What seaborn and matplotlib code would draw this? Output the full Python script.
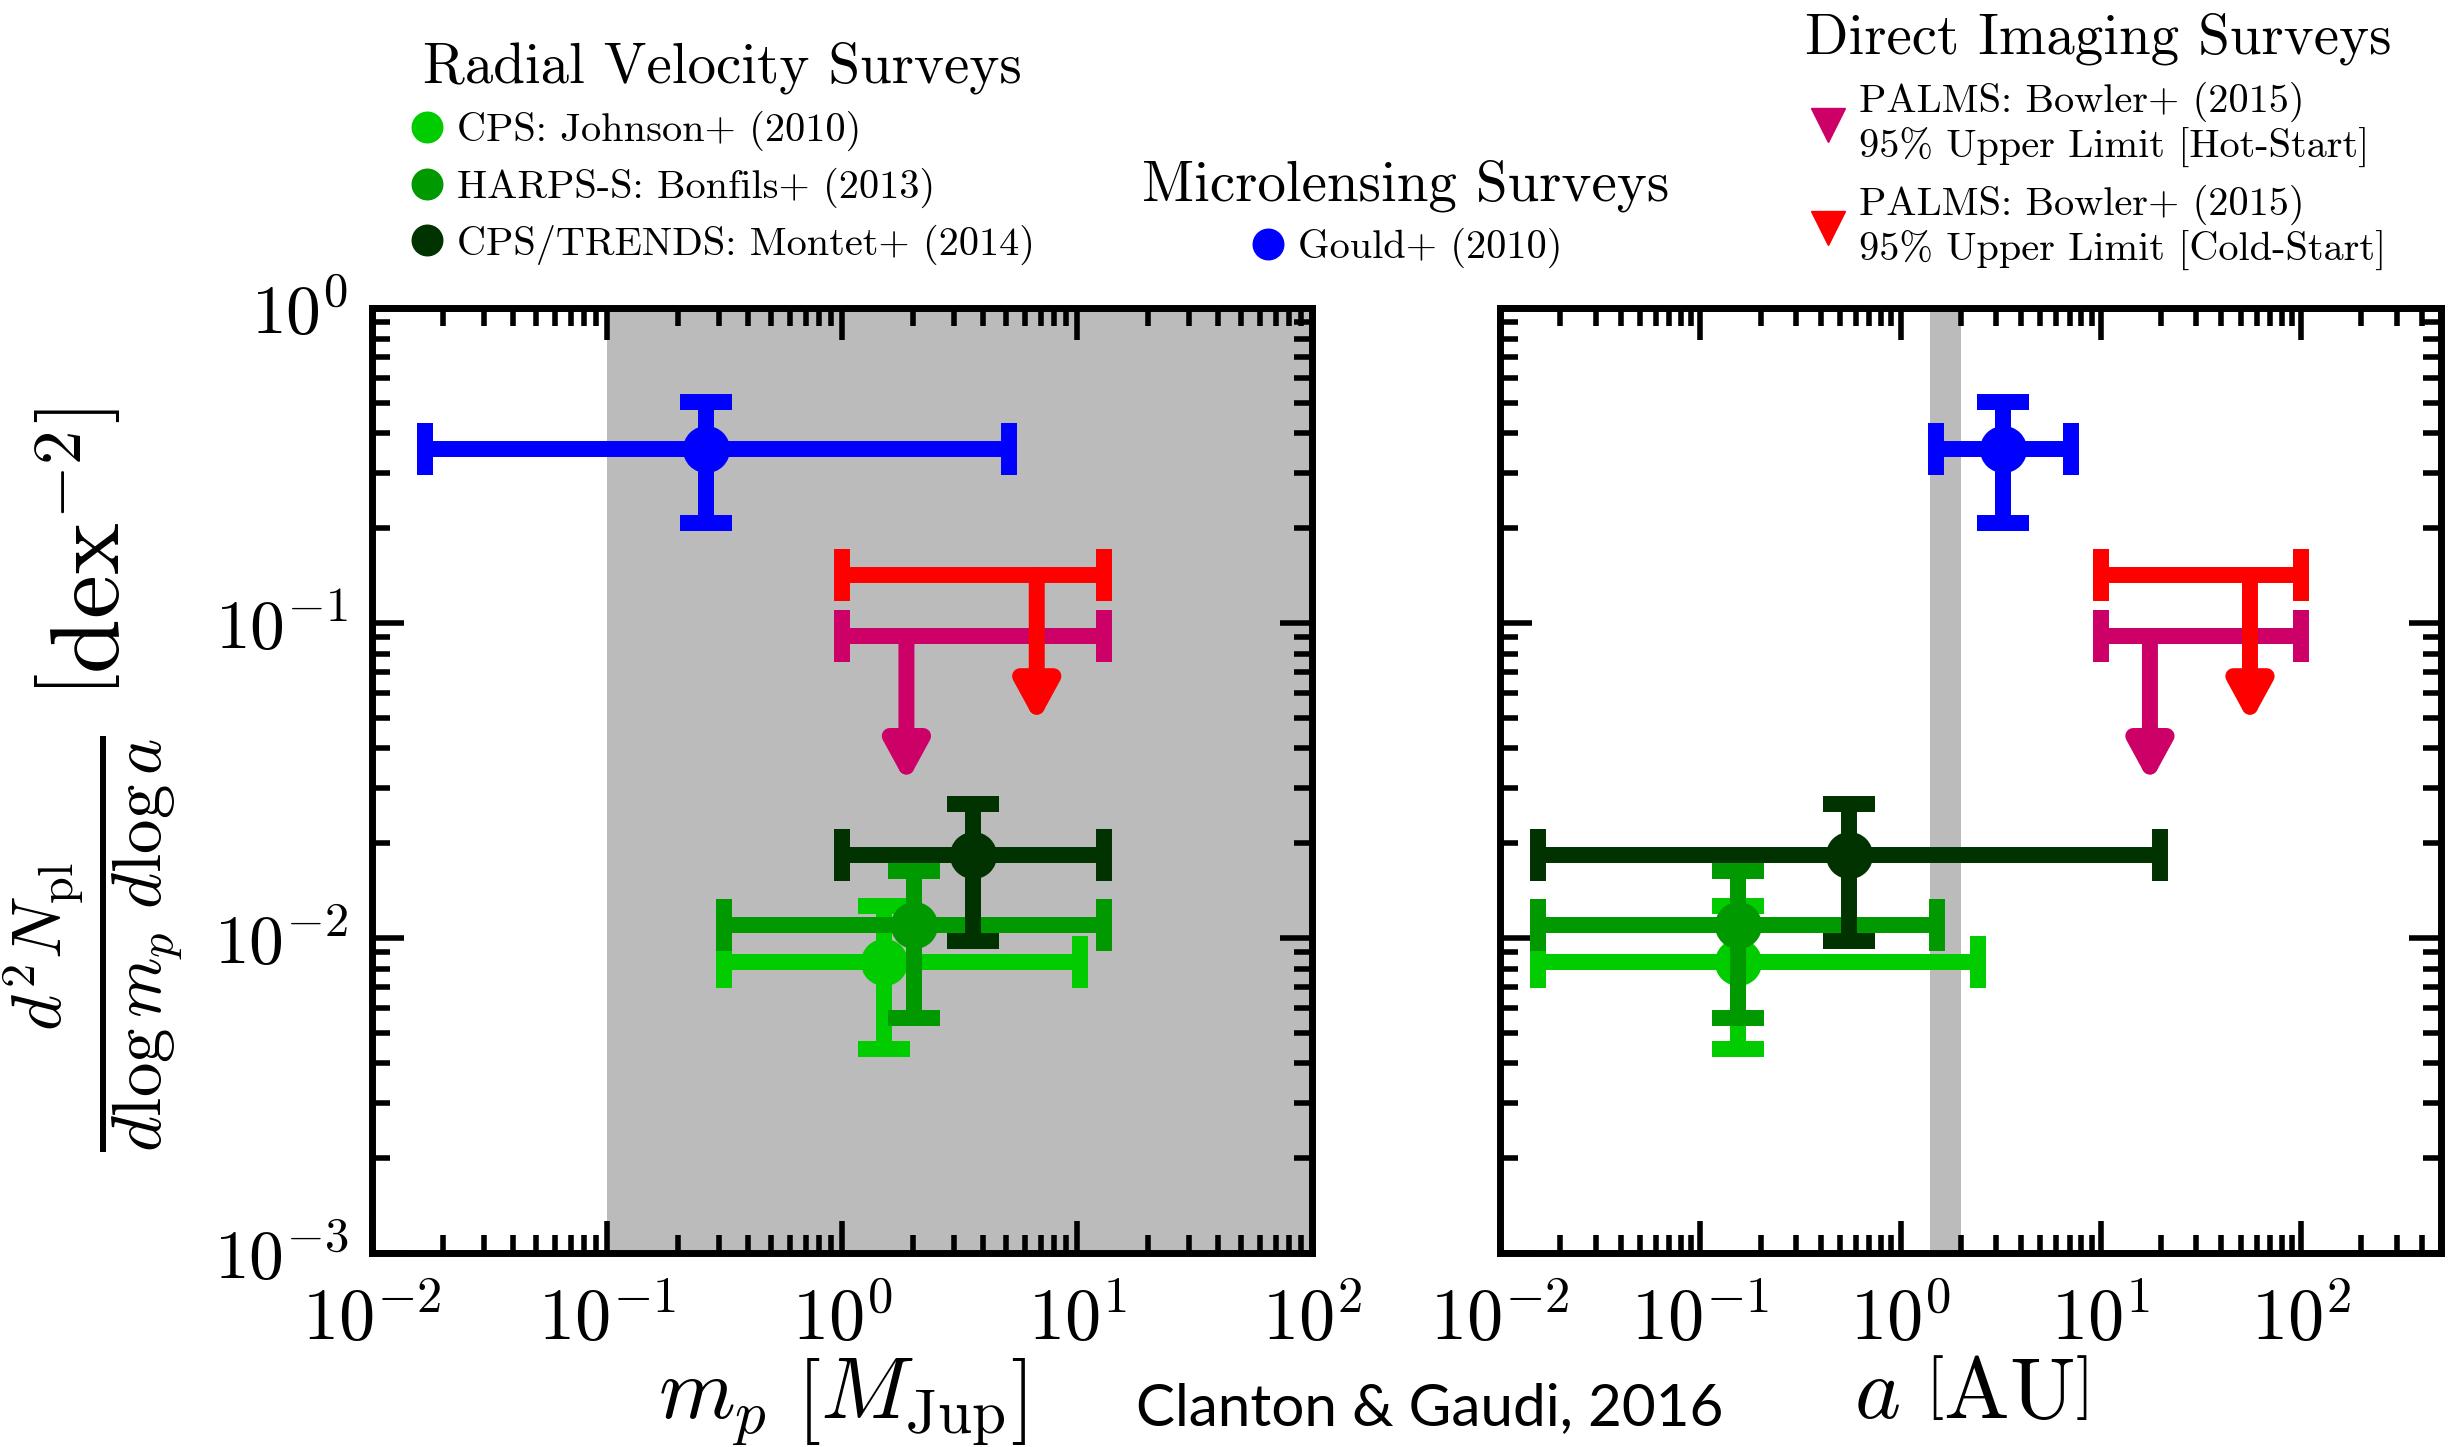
import numpy as np
import pandas as pd
import matplotlib
matplotlib.use("Agg")
import matplotlib.pyplot as plt
import seaborn as sns
from matplotlib.lines import Line2D
from matplotlib.ticker import FixedLocator, LogLocator, FuncFormatter, NullFormatter

sns.set_theme(style="white")
plt.rcParams["font.family"] = ["cmr10", "DejaVu Serif"]
plt.rcParams["mathtext.fontset"] = "cm"
plt.rcParams["axes.unicode_minus"] = False
plt.rcParams["axes.formatter.use_mathtext"] = True
for key in ["text.color", "axes.labelcolor", "xtick.color", "ytick.color", "axes.edgecolor"]:
    plt.rcParams[key] = "black"

# ---------------- data ----------------
surveys = ["CPS: Johnson+ (2010)", "HARPS-S: Bonfils+ (2013)",
           "CPS/TRENDS: Montet+ (2014)", "Gould+ (2010)"]
colors = ["#00cc00", "#009900", "#003300", "#0000ff"]
mass = [1.51, 2.03, 3.62, 0.264]
mass_lo = [0.315, 0.315, 1.0, 0.0168]
mass_hi = [10.3, 13.0, 13.0, 5.15]
sep = [0.154, 0.154, 0.553, 3.25]
sep_lo = [0.0154, 0.0154, 0.0154, 1.51]
sep_hi = [2.44, 1.53, 19.7, 7.11]
freq = [0.00838, 0.0110, 0.0183, 0.356]
freq_lo = [0.00443, 0.00559, 0.0098, 0.208]
freq_hi = [0.0126, 0.0163, 0.0266, 0.502]

limit_labels = ["PALMS: Bowler+ (2015)\n95% Upper Limit [Hot-Start]",
                "PALMS: Bowler+ (2015)\n95% Upper Limit [Cold-Start]"]
limit_colors = ["#cc0066", "#ff0000"]
limit_freq = [0.091, 0.142]
limit_tip = [0.0310, 0.0480]
limit_mass_lo = [1.0, 1.0]
limit_mass_hi = [13.0, 13.0]
limit_mass_arrow = [1.88, 6.74]
limit_sep_lo = [10.0, 10.0]
limit_sep_hi = [100.0, 100.0]
limit_sep_arrow = [17.6, 55.6]

mass_shade = [0.1, 100.0]
sep_shade = [1.4, 2.0]
mass_lim = [1e-2, 1e2]
sep_lim = [1e-2, 500.0]
freq_lim = [1e-3, 1.0]

df = pd.DataFrame({"survey": surveys, "color": colors, "mass": mass,
                   "mass_lo": mass_lo, "mass_hi": mass_hi, "sep": sep,
                   "sep_lo": sep_lo, "sep_hi": sep_hi, "freq": freq,
                   "freq_lo": freq_lo, "freq_hi": freq_hi})

# ---------------- figure ----------------
W, H = 2450, 1447
fig = plt.figure(figsize=(W / 100, H / 100), dpi=100)
axL = fig.add_axes([372 / W, 1 - 1253 / H, 940 / W, 945 / H])
axR = fig.add_axes([1500 / W, 1 - 1253 / H, 941 / W, 945 / H])

LW = 11.5
CAP = 19


def draw_panel(ax, xcol, xlo, xhi, lim_lo, lim_hi, lim_arrow, shade, xlim):
    ax.set_xscale("log")
    ax.set_yscale("log")
    ax.axvspan(shade[0], shade[1], color="#bbbbbb", lw=0, zorder=0)
    # upper limits (direct imaging)
    for i in range(len(limit_freq)):
        z = 3 + i
        xa = lim_arrow[i]
        ax.errorbar([xa], [limit_freq[i]],
                    xerr=[[xa - lim_lo[i]], [lim_hi[i] - xa]],
                    fmt="none", ecolor=limit_colors[i], elinewidth=LW,
                    capsize=CAP, capthick=LW, zorder=z)
        ax.annotate("", xy=(xa, limit_tip[i]), xytext=(xa, limit_freq[i]),
                    arrowprops=dict(arrowstyle="-|>,head_length=1.1,head_width=0.6",
                                    mutation_scale=20, lw=LW,
                                    color=limit_colors[i], shrinkA=0,
                                    shrinkB=0),
                    zorder=z)
    # detections
    for i, row in df.iterrows():
        z = 6 + 2 * i
        x = row[xcol]
        y = row["freq"]
        ax.errorbar([x], [y],
                    xerr=[[x - row[xlo]], [row[xhi] - x]],
                    yerr=[[y - row["freq_lo"]], [row["freq_hi"] - y]],
                    fmt="none", ecolor=row["color"], elinewidth=LW,
                    capsize=CAP, capthick=LW, zorder=z)
        sns.scatterplot(data=df.iloc[[i]], x=xcol, y="freq", color=row["color"],
                        s=1150, linewidth=0, ax=ax, legend=False, zorder=z + 1)
    ax.set_xlim(*xlim)
    ax.set_ylim(*freq_lim)
    ax.set_xlabel("")
    ax.set_ylabel("")
    for sp in ax.spines.values():
        sp.set_visible(True)
        sp.set_color("black")
        sp.set_linewidth(5)
    ax.xaxis.set_major_locator(FixedLocator([1e-2, 1e-1, 1e0, 1e1, 1e2]))
    ax.xaxis.set_minor_locator(LogLocator(base=10, subs=np.arange(2, 10), numticks=20))
    ax.yaxis.set_major_locator(FixedLocator([1e-3, 1e-2, 1e-1, 1e0]))
    ax.yaxis.set_minor_locator(LogLocator(base=10, subs=np.arange(2, 10), numticks=20))
    ax.xaxis.set_major_formatter(FuncFormatter(lambda v, p: r"$10^{%d}$" % round(np.log10(v))))
    ax.yaxis.set_major_formatter(FuncFormatter(lambda v, p: r"$\mathbf{10^{%d}}$" % round(np.log10(v))))
    ax.xaxis.set_minor_formatter(NullFormatter())
    ax.yaxis.set_minor_formatter(NullFormatter())
    ax.tick_params(which="both", direction="in", top=True, right=True,
                   bottom=True, left=True, color="black", width=4)
    ax.tick_params(which="major", length=23)
    ax.tick_params(which="minor", length=13)
    ax.tick_params(axis="x", which="major", labelsize=52, pad=24)
    ax.tick_params(axis="y", which="major", labelsize=50, pad=17)


draw_panel(axL, "mass", "mass_lo", "mass_hi", limit_mass_lo, limit_mass_hi,
           limit_mass_arrow, mass_shade, mass_lim)
draw_panel(axR, "sep", "sep_lo", "sep_hi", limit_sep_lo, limit_sep_hi,
           limit_sep_arrow, sep_shade, sep_lim)
axR.tick_params(axis="y", labelleft=False)

axL.set_xlabel(r"$m_p\ \left[M_{\rm Jup}\right]$", fontsize=63, labelpad=2)
axR.set_xlabel(r"$a\ \left[\mathrm{AU}\right]$", fontsize=63, labelpad=2)
axL.set_ylabel(r"$\frac{d^2N_{\rm pl}}{d\log m_p\ d\log a}\ \left[\mathrm{dex}^{-2}\right]$",
               fontsize=71, labelpad=21)

fig.text(1430 / W, 1 - 1425 / H, "Clanton & Gaudi, 2016", family="Lato",
         fontsize=42, ha="center", va="baseline", color="black")

# ---------------- legends ----------------
leg_kw = dict(loc="upper center", frameon=False, fontsize=29, title_fontsize=41,
              handletextpad=0.3, labelspacing=0.41, borderpad=0, handlelength=0.9)
rv_handles = [Line2D([], [], marker="o", ls="none", color=c, ms=22) for c in colors[:3]]
fig.legend(rv_handles, surveys[:3], title="Radial Velocity Surveys",
           bbox_to_anchor=(722 / W, 0.985), **leg_kw)
ml_handles = [Line2D([], [], marker="o", ls="none", color=colors[3], ms=22)]
fig.legend(ml_handles, surveys[3:], title="Microlensing Surveys",
           bbox_to_anchor=(1406 / W, 0.904), **leg_kw)
di_handles = [Line2D([], [], marker="v", ls="none", color=c, ms=24) for c in limit_colors]
fig.legend(di_handles, limit_labels, title="Direct Imaging Surveys",
           bbox_to_anchor=(2098 / W, 1.005), **leg_kw)

fig.savefig("out.png", dpi=100)
